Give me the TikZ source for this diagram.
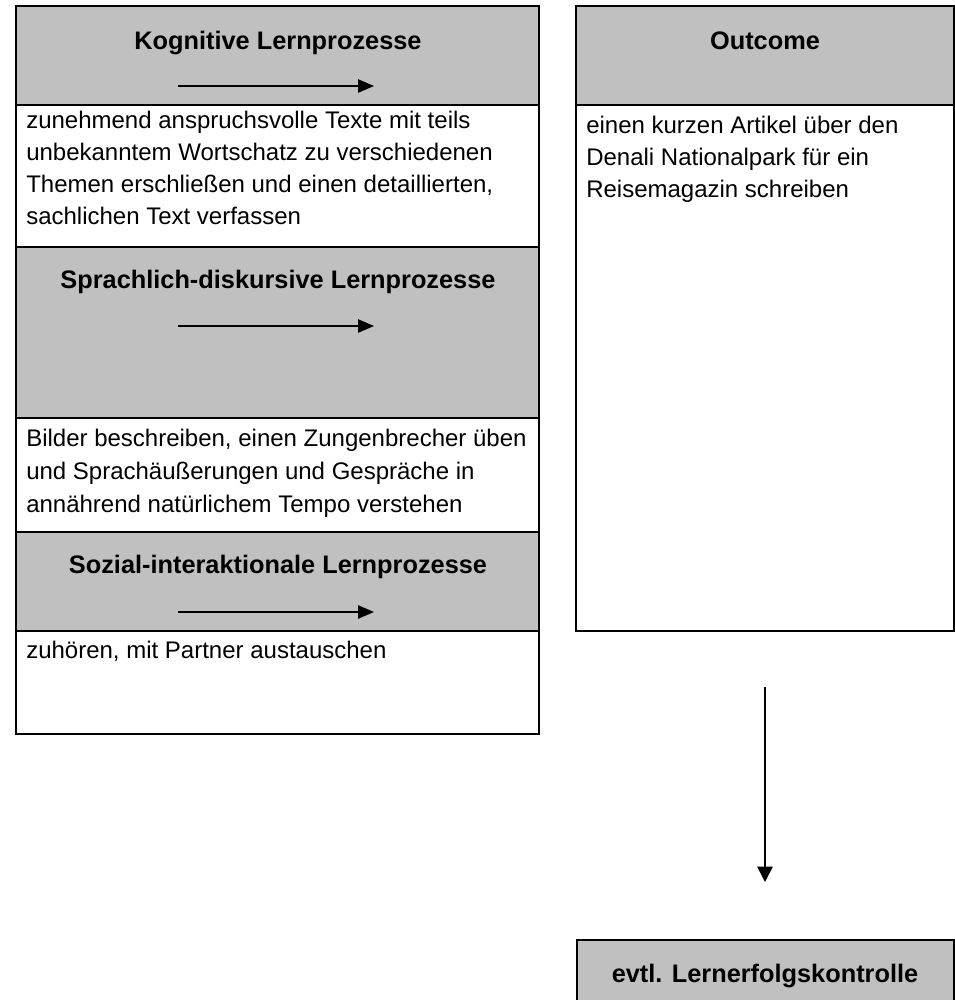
\documentclass[tikz,border=0pt]{standalone}
\usepackage{fontspec}
\setmainfont{Liberation Sans}
\usetikzlibrary{fit,arrows.meta}
\definecolor{boxgray}{RGB}{192,192,192}
\begin{document}
\begin{tikzpicture}[x=0.75pt,y=-0.75pt,
  boxline/.style={draw=black, line width=1.6pt, inner sep=0pt},
  graybox/.style={boxline, fill=boxgray},
  whitebox/.style={boxline, fill=white},
  titletext/.style={font=\fontsize{19}{24}\selectfont\bfseries, inner sep=0pt, anchor=base},
  bodytext/.style={font=\fontsize{18}{24}\selectfont, inner sep=0pt, anchor=base west},
  harrow/.style={line width=1.25pt, -{Triangle[length=12pt,width=10pt]}},
  varrow/.style={line width=1.25pt, -{Triangle[length=11.5pt,width=11.5pt]}}]
\useasboundingbox (0,0) rectangle (955,1000);

% left column
\node[graybox, fit={(16,6)(539,105)}] (g1) {};
\node[whitebox, fit={(16,105)(539,247)}] (w1) {};
\node[graybox, fit={(16,247)(539,418)}] (g2) {};
\node[whitebox, fit={(16,418)(539,532)}] (w2) {};
\node[graybox, fit={(16,532)(539,631)}] (g3) {};
\node[whitebox, fit={(16,631)(539,734)}] (w3) {};

\node[titletext] (t1) at (278,49) {Kognitive Lernprozesse};
\coordinate (a1s) at (178,86); \coordinate (a1e) at (374,86);
\draw[harrow] (a1s) -- (a1e);
\node[bodytext] (b1) at (26,128) {\begin{tabular}[t]{@{}l@{}}zunehmend anspruchsvolle Texte mit teils\\unbekanntem Wortschatz zu verschiedenen\\Themen erschließen und einen detaillierten,\\sachlichen Text verfassen\end{tabular}};

\node[titletext] (t2) at (278,288) {Sprachlich-diskursive Lernprozesse};
\coordinate (a2s) at (178,326); \coordinate (a2e) at (374,326);
\draw[harrow] (a2s) -- (a2e);
\node[bodytext, font=\fontsize{18}{24.75}\selectfont] (b2) at (26,446) {\begin{tabular}[t]{@{}l@{}}Bilder beschreiben, einen Zungenbrecher üben\\und Sprachäußerungen und Gespräche in\\annährend natürlichem Tempo verstehen\end{tabular}};

\node[titletext] (t3) at (278,573) {Sozial-interaktionale Lernprozesse};
\coordinate (a3s) at (178,612); \coordinate (a3e) at (374,612);
\draw[harrow] (a3s) -- (a3e);
\node[bodytext] (b3) at (26,658) {zuhören, mit Partner austauschen};

% right column
\node[graybox, fit={(576,6)(954,105)}] (go) {};
\node[whitebox, fit={(576,105)(954,631)}] (wo) {};
\node[titletext] (to) at (765,49) {Outcome};
\node[bodytext] (bo) at (586,133) {\begin{tabular}[t]{@{}l@{}}einen kurzen Artikel über den\\Denali Nationalpark für ein\\Reisemagazin schreiben\end{tabular}};

\coordinate (vs) at (765,687); \coordinate (ve) at (765,882);
\draw[varrow] (vs) -- (ve);

\node[graybox, fit={(577,940)(954,1012)}] (ge) {};
\node[titletext] (te) at (765,982) {evtl. Lernerfolgskontrolle};
\end{tikzpicture}
\end{document}
